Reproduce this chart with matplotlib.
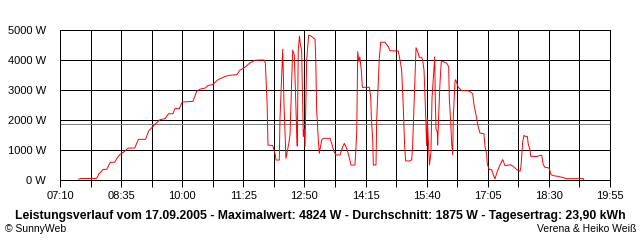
import matplotlib.pyplot as plt

# minutes since midnight and power in W
minutes = [456, 459, 481, 484, 490, 495, 500, 506, 509, 513, 518, 525, 534, 539, 549, 553,
           555, 564, 569, 576, 581, 587, 590, 596, 600, 615, 620, 625, 632, 636, 642, 650,
           657, 660, 666, 676, 680, 687, 694, 701, 708, 714, 715.6, 718, 719.3, 725.8, 727.7,
           729.5, 730.4, 735, 736, 739.8, 741.6, 744.3, 748.1, 749.9, 753.6, 755.9, 759.2,
           760, 761.4, 763.1, 764.4, 766.1, 768.4, 769.8, 770.8, 773.1, 775.9, 779.1, 784.7,
           785.6, 787, 789.3, 790.7, 794, 796.2, 805.5, 807.9, 811.1, 813.9, 819.5, 823.2,
           825.4, 828.8, 832, 834.7, 840.3, 842.7, 844.1, 845.9, 847, 849.1, 850.5, 860.2,
           862.2, 863, 865, 865.8, 869.5, 870.5, 874.1, 876.1, 882, 886.6, 889, 900.5, 902.9,
           905.2, 907.1, 909.4, 910.8, 915.8, 919.2, 920.5, 921.9, 923.3, 925.2, 927, 928.4,
           929.7, 933.1, 934.4, 936.3, 937.7, 940, 940.9, 943.9, 946, 947.4, 951.2, 952, 953,
           954.8, 955.3, 956.7, 958.5, 960.3, 963.1, 967.9, 970.6, 971.5, 973.4, 974.8, 976.2,
           977, 979.4, 980.4, 981.8, 984, 988.7, 997.9, 1004, 1005.8, 1008.6, 1011, 1014.2,
           1019.7, 1021.1, 1023.5, 1024.3, 1027.1, 1030.5, 1032.7, 1035, 1038.3, 1042, 1045.8,
           1049, 1051.3, 1055.9, 1060.5, 1065.2, 1069.8, 1071.2, 1073.6, 1075.4, 1076.8, 1080,
           1081.4, 1083.7, 1084.7, 1093, 1097.6, 1100, 1102.2, 1104.6, 1110.2, 1112.9, 1116.1,
           1123.1, 1127.8, 1134.8, 1157.9, 1158.3]
watts = [30, 50, 50, 200, 355, 355, 590, 590, 710, 845, 920, 1065, 1065, 1355, 1355, 1620,
         1680, 1900, 2010, 2045, 2210, 2210, 2380, 2380, 2600, 2620, 2955, 3030, 3065, 3155, 3175, 3345,
         3420, 3455, 3490, 3510, 3655, 3755, 3900, 3990, 4000, 4000, 3900, 2600, 1165, 1150, 1000,
         830, 665, 665, 2055, 4355, 2500, 720, 1200, 1500, 4330, 4170, 1610,
         1130, 4330, 4800, 4500, 4330, 1445, 1700, 1110, 4000, 4830, 4800, 4690,
         4165, 2330, 1330, 890, 1330, 1390, 1390, 1220, 945, 835, 835, 1110,
         1220, 1055, 780, 500, 500, 1555, 4280, 3945, 4100, 3665, 3090, 3090,
         2780, 2110, 1330, 500, 500, 2000, 4055, 4590, 4590, 4445, 4310, 4300, 4000,
         3665, 2665, 1110, 635, 635, 670, 1165, 2110, 3055, 4410, 4300, 4220,
         4090, 4090, 4000, 3665, 2780, 1145, 2055, 500, 945, 2720, 4110, 2665, 1720,
         1600, 1165, 2165, 3220, 3945, 3945, 3890, 3775, 2720, 1945, 1220, 835,
         2055, 3290, 3345, 3235, 3090, 2980, 2980, 2880, 2510, 2180, 1845, 1565,
         1540, 1120, 845, 535, 345, 345, 180, 35, 290, 510, 680,
         480, 480, 510, 455, 345, 290, 455, 1290, 1490, 1455, 1455,
         1180, 1010, 790, 780, 820, 820, 510, 420, 400, 180, 145,
         120, 90, 45, 45, 0]

average = 1875
tick_minutes = [430 + 42.5 * i for i in range(19)]
label_minutes = [430, 515, 600, 685, 770, 855, 940, 1025, 1110, 1195]
y_ticks = [0, 1000, 2000, 3000, 4000, 5000]

title = ("Leistungsverlauf vom 17.09.2005 - Maximalwert: 4824 W - "
         "Durchschnitt: 1875 W - Tagesertrag: 23,90 kWh")

plt.rcParams['font.family'] = ['Liberation Sans', 'DejaVu Sans']
px = 0.72  # one pixel in points at dpi 100

fig = plt.figure(figsize=(6.4, 2.4), dpi=100)
ax = fig.add_axes([60 / 640, 1 - 180 / 240, 550 / 640, 150 / 240])

ax.set_xlim(430, 1195)
ax.set_ylim(0, 5000)

for t in tick_minutes:
    ax.axvline(t, color='black', lw=px, antialiased=False, zorder=1)
for w in y_ticks:
    ax.axhline(w, color='black', lw=px, antialiased=False, zorder=1)
ax.axhline(average, color='#808080', lw=px, antialiased=False, zorder=2)

ax.plot(minutes, watts, color='#ff0000', lw=0.7, antialiased=True, zorder=3)

for s in ax.spines.values():
    s.set_linewidth(px)
    s.set_antialiased(False)

ax.set_xticks(label_minutes)
ax.set_xticklabels(['%02d:%02d' % (m // 60, m % 60) for m in label_minutes], fontsize=8)
ax.set_xticks(tick_minutes, minor=True)
ax.tick_params(axis='x', which='both', length=5, width=px, direction='out', pad=3)
ax.set_yticks(y_ticks)
ax.set_yticklabels(['%d W' % w for w in y_ticks], fontsize=8)
ax.tick_params(axis='y', length=0, pad=10)

fig.text(320 / 640, 1 - 216 / 240, title, ha='center', va='center',
         fontsize=8.8, fontweight='bold')
fig.text(5 / 640, 1 - 229 / 240, '\u00a9 SunnyWeb', ha='left', va='center', fontsize=7.5)
fig.text(636 / 640, 1 - 229 / 240, 'Verena & Heiko Weiß', ha='right', va='center', fontsize=7.5)

plt.savefig('out.png', dpi=100)
